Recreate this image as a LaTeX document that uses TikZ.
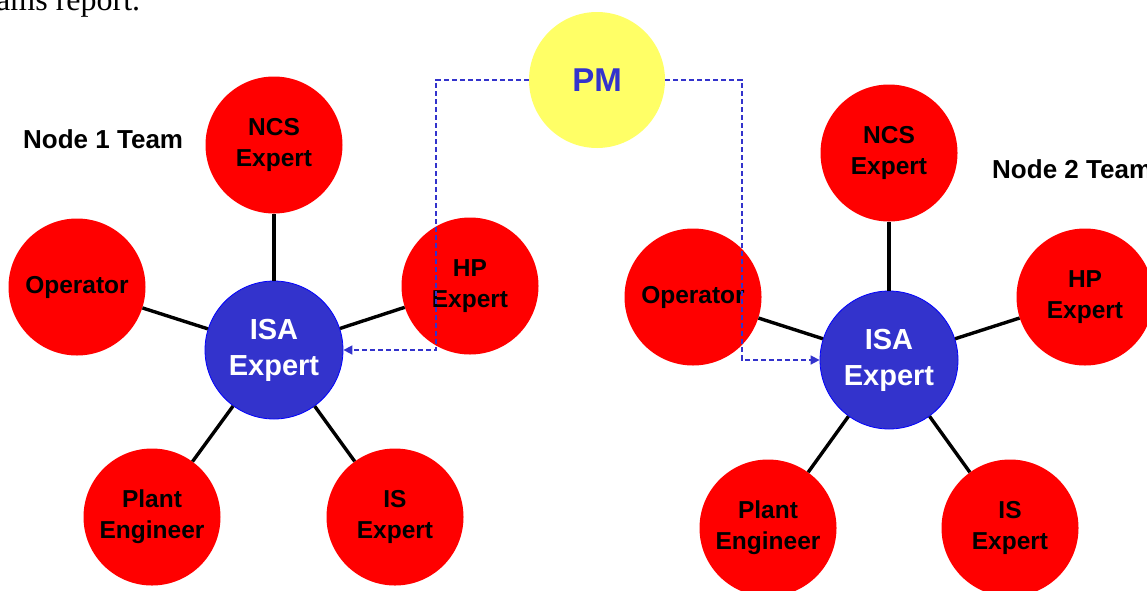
\documentclass[tikz,border=0pt]{standalone}
\usepackage{fontspec}
\setmainfont{Liberation Sans}
\newfontfamily\serifface{Liberation Serif}
\usetikzlibrary{arrows.meta}
\definecolor{isablue}{RGB}{51,51,204}
\definecolor{pmyellow}{RGB}{255,255,102}
\definecolor{memred}{RGB}{255,0,0}
\tikzset{
  member/.style={circle, fill=memred, minimum size=137pt, inner sep=0pt, align=center,
    font=\bfseries\fontsize{24.5}{31}\selectfont, text=black},
  isa/.style={circle, fill=isablue, draw=blue, line width=0.8pt, minimum size=138pt, inner sep=0pt,
    align=center, font=\bfseries\fontsize{29}{36}\selectfont, text=white},
  pmnode/.style={circle, fill=pmyellow, minimum size=136pt, inner sep=0pt,
    font=\bfseries\fontsize{33}{38}\selectfont, text=isablue},
  link/.style={line width=3.4pt, black},
  report/.style={draw=isablue, dashed, dash pattern=on 5pt off 3pt, line width=1.6pt},
  teamlabel/.style={font=\bfseries\fontsize{26}{30}\selectfont, anchor=west, inner sep=0pt}
}
\begin{document}
\begin{tikzpicture}[x=1pt,y=-1pt]
\useasboundingbox (0,0) rectangle (1147,590);
\node[anchor=base west, inner sep=0pt, font=\serifface\fontsize{32}{36}\selectfont] (txt) at (-4,10) {ams report.};
% team 1
\node[isa] (isa1) at (274,350) {ISA\\Expert};
\node[member] (ncs1) at (274,145) {NCS\\Expert};
\node[member] (op1) at (77,287) {Operator};
\node[member] (hp1) at (470,286) {HP\\Expert};
\node[member] (pe1) at (152,517) {Plant\\Engineer};
\node[member] (is1) at (395,517) {IS\\Expert};
% team 2
\node[isa] (isa2) at (889,360) {ISA\\Expert};
\node[member] (ncs2) at (889,153) {NCS\\Expert};
\node[member] (op2) at (693,297) {Operator};
\node[member] (hp2) at (1085,297) {HP\\Expert};
\node[member] (pe2) at (768,528) {Plant\\Engineer};
\node[member] (is2) at (1010,528) {IS\\Expert};
% pm
\node[pmnode] (pm) at (597,80) {PM};
% links
\foreach \a/\b in {isa1/ncs1,isa1/op1,isa1/hp1,isa1/pe1,isa1/is1,isa2/ncs2,isa2/op2,isa2/hp2,isa2/pe2,isa2/is2}{
  \draw[link] (\a) -- (\b);
}
% labels
\node[teamlabel] (t1) at (23,139) {Node 1 Team};
\node[teamlabel] (t2) at (992,169) {Node 2 Team};
% reporting lines
\coordinate (c1) at (436,80);
\coordinate (c2) at (436,350);
\coordinate (c3) at (742,80);
\coordinate (c4) at (742,360);
\draw[report, -{Triangle[length=9pt,width=9pt]}] (pm.west) -- (c1) -- (c2) -- (isa1.east);
\draw[report, -{Triangle[length=9pt,width=9pt]}] (pm.east) -- (c3) -- (c4) -- (isa2.west);
\end{tikzpicture}
\end{document}
